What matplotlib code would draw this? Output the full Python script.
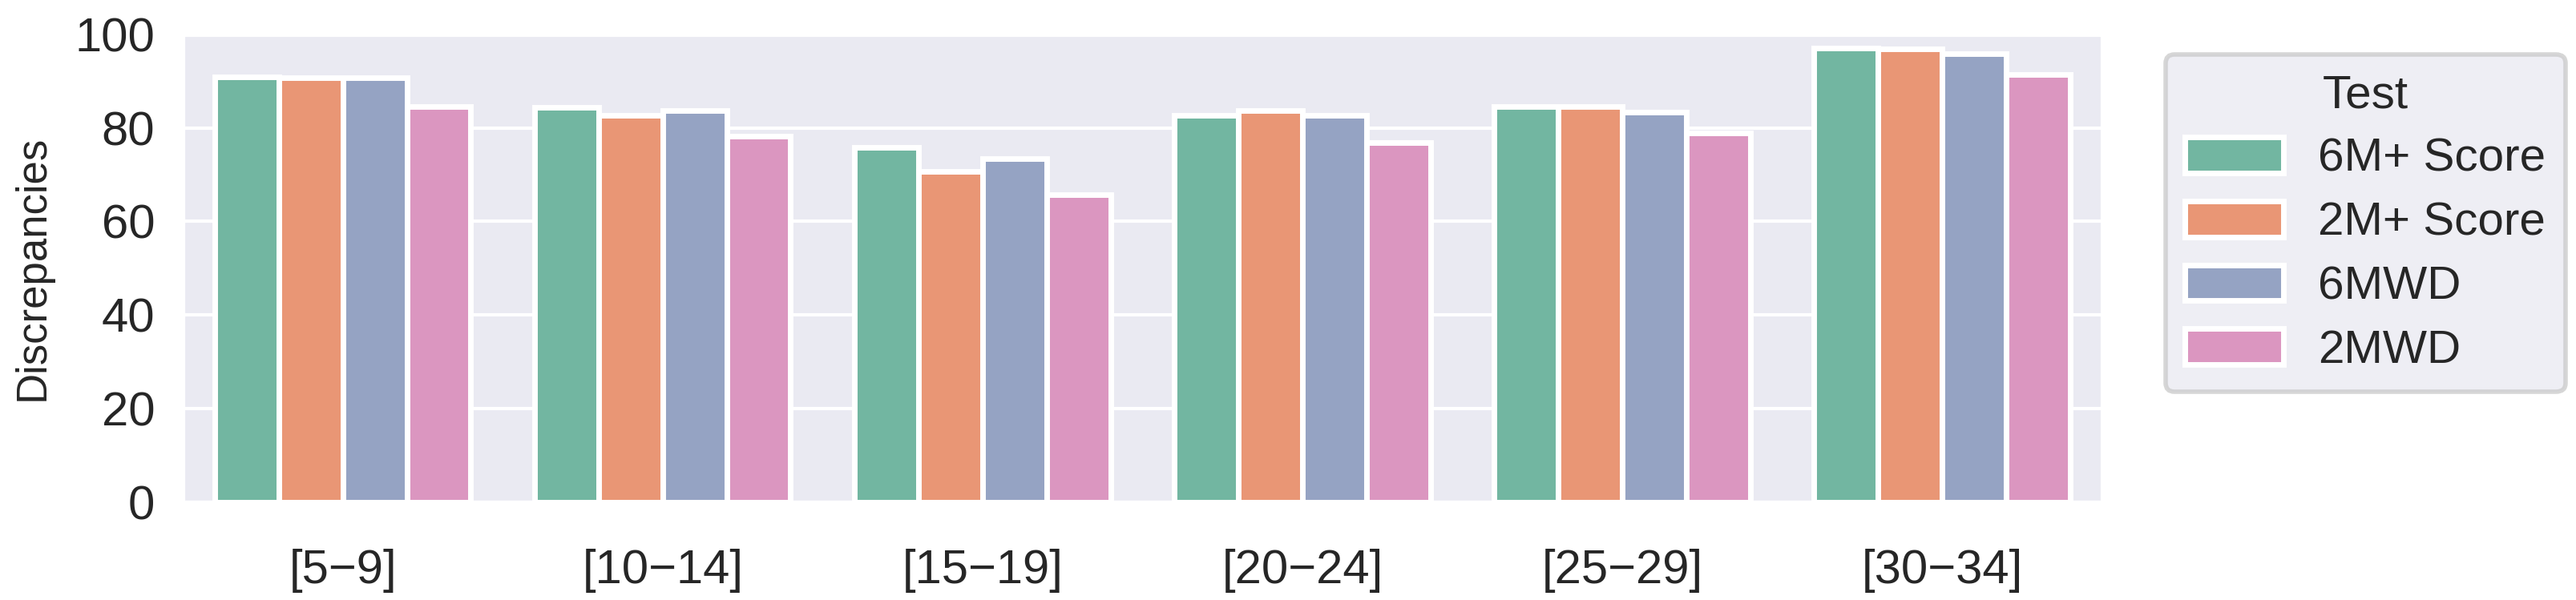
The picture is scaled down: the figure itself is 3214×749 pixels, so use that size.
import numpy as np
import pandas as pd
import matplotlib
matplotlib.use("Agg")
import matplotlib.pyplot as plt
import seaborn as sns

# age groups on x, one bar per test
groups = ["[5\u22129]", "[10\u221214]", "[15\u221219]", "[20\u221224]", "[25\u221229]", "[30\u221234]"]
tests = ["6M+ Score", "2M+ Score", "6MWD", "2MWD"]

six_m_score = [90.9, 84.3, 75.8, 82.7, 84.6, 97.0]
two_m_score = [90.7, 82.7, 70.6, 83.7, 84.6, 96.9]
six_mwd = [90.7, 83.7, 73.5, 82.7, 83.4, 95.9]
two_mwd = [84.6, 78.2, 65.7, 76.8, 78.9, 91.4]

vals = [six_m_score, two_m_score, six_mwd, two_mwd]

rows = []
for t, v in zip(tests, vals):
    for g, x in zip(groups, v):
        rows.append({"Age": g, "Test": t, "Discrepancies": x})
df = pd.DataFrame(rows)

sns.set_theme(style="darkgrid", context="talk")
plt.rcParams['font.family'] = ['Liberation Sans', 'DejaVu Sans']

fig = plt.figure(figsize=(16.07, 3.745), dpi=200)
ax = fig.add_axes([0.071, 0.163, 0.745, 0.78])

sns.barplot(data=df, x="Age", y="Discrepancies", hue="Test",
            palette="Set2", saturation=0.75, edgecolor="white",
            linewidth=2.5, ax=ax)

ax.set_ylim(0, 100)
ax.set_xlim(-0.5, 5.5)
ax.set_yticks(np.arange(0, 101, 20))
ax.set_xlabel("")
ax.set_ylabel("Discrepancies", fontsize=19, labelpad=10)
ax.tick_params(axis="both", labelsize=21.5)
ax.tick_params(axis="x", pad=12)

leg = ax.legend(title="Test", loc="upper left", bbox_to_anchor=(1.033, 0.957),
                borderaxespad=0, fontsize=21, title_fontsize=21,
                borderpad=0.42, labelspacing=0.43, handlelength=2.1,
                handleheight=0.8, handletextpad=0.75)
leg.get_frame().set_linewidth(2)

fig.savefig("out.png", dpi=200)
